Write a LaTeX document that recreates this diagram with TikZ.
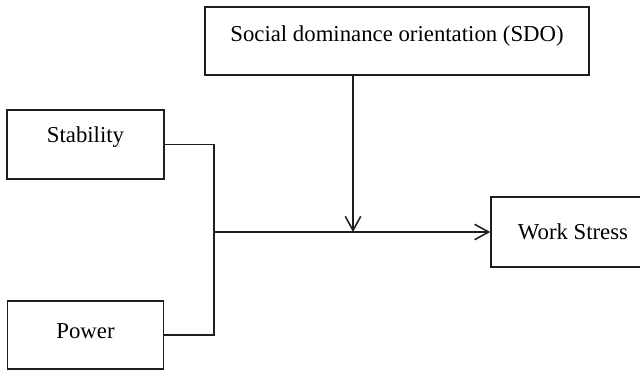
\documentclass[tikz,border=0pt]{standalone}
\usepackage{fontspec}
\setmainfont{Liberation Serif}
\usetikzlibrary{arrows.meta,positioning}

\begin{document}
\begin{tikzpicture}[>={Straight Barb[length=10pt,width=11pt]},font=\fontsize{16.2}{19}\selectfont]
  \tikzstyle{box}=[draw=black!88,line width=1.1pt,inner sep=0pt]
  \tikzstyle{link}=[draw=black!88,line width=1.1pt]
  \useasboundingbox (0,0) rectangle (16,-9.25);
  \clip (0,0) rectangle (16,-9.25);
  % boxes
  \node[box,minimum width=9.6cm,minimum height=1.7cm,text height=11pt,text depth=10pt] (sdo) at (9.925,-1.025) {Social dominance orientation (SDO)};
  \node[box,minimum width=3.925cm,minimum height=1.725cm,text height=11pt,text depth=14pt] (stab) at (2.1375,-3.6125) {Stability};
  \node[box,minimum width=3.9cm,minimum height=1.7cm,text height=11pt,text depth=6pt] (pow) at (2.1375,-8.375) {Power};
  \node[box,minimum width=4.1cm,minimum height=1.75cm] (ws) at (14.325,-5.8) {Work Stress};
  % connectors
  \coordinate (j) at (5.35,-5.8);
  \coordinate (m) at (8.825,-5.8);
  \draw[link] (stab.east) -| (j) |- (pow.east);
  \draw[link,->] (j) -- (ws.west);
  \draw[link,->] (sdo.south -| m) -- (m);
\end{tikzpicture}
\end{document}
